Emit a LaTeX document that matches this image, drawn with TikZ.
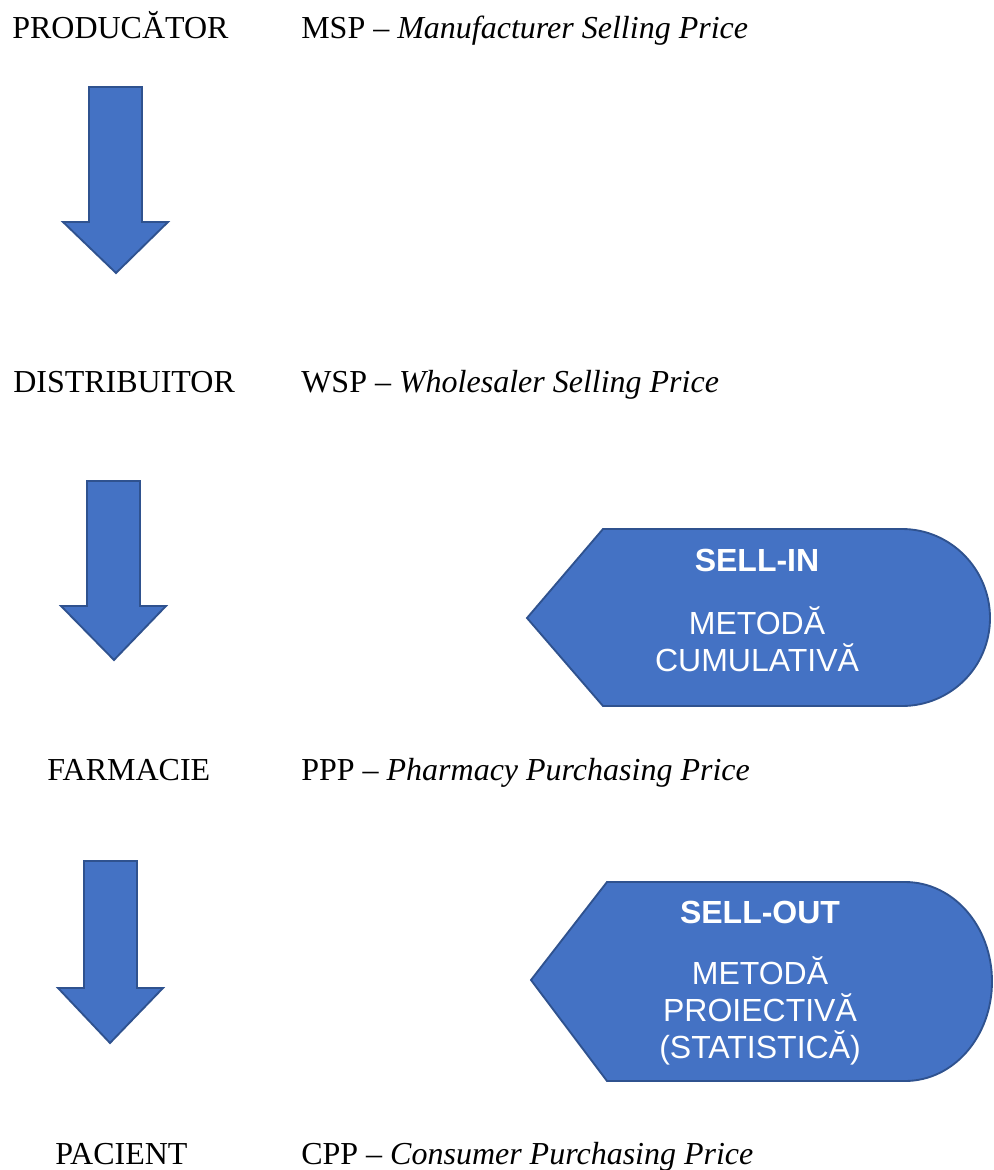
\documentclass[tikz,border=0pt]{standalone}
\usepackage{fontspec}
\setmainfont{Liberation Serif}
\newfontfamily\arialf{Liberation Sans}
\definecolor{boxblue}{HTML}{4472C4}
\definecolor{edgeblue}{HTML}{2F528F}
\begin{document}
\begin{tikzpicture}[x=0.75pt,y=-0.75pt,
  shapefill/.style={fill=boxblue,draw=edgeblue,line width=1.4pt,line join=miter},
  lbl/.style={inner sep=0pt,anchor=base west,font=\fontsize{24}{28}\selectfont},
  wtxt/.style={inner sep=0pt,anchor=base,text=white,font=\arialf\fontsize{24}{28}\selectfont},
  wbold/.style={wtxt,font=\arialf\bfseries\fontsize{24}{28}\selectfont}]
\useasboundingbox (0,0) rectangle (994,1170);
% labels
\node[lbl] (prod) at (12,39) {PRODUCĂTOR};
\node[lbl] (msp) at (301,39) {MSP – \textit{Manufacturer Selling Price}};
\node[lbl] (dist) at (13,392) {DISTRIBUITOR};
\node[lbl] (wsp) at (301,392) {WSP – \textit{Wholesaler Selling Price}};
\node[lbl] (farm) at (47,780) {FARMACIE};
\node[lbl] (ppp) at (301,780) {PPP – \textit{Pharmacy Purchasing Price}};
\node[lbl] (pac) at (55,1164) {PACIENT};
\node[lbl] (cpp) at (301,1164) {CPP – \textit{Consumer Purchasing Price}};
% block arrows
\draw[shapefill] (89,87) -- (142,87) -- (142,222) -- (168,222) -- (116,273) -- (63,222) -- (89,222) -- cycle;
\draw[shapefill] (87,481) -- (140,481) -- (140,606) -- (166,606) -- (114,660) -- (61,606) -- (87,606) -- cycle;
\draw[shapefill] (84,861) -- (137,861) -- (137,988) -- (163,988) -- (110,1043) -- (58,988) -- (84,988) -- cycle;
% display shapes
\draw[shapefill] (527,618) -- (603,529) -- (902,529)
  .. controls (950.6,529) and (990,569.1) .. (990,618)
  .. controls (990,666.9) and (950.6,706) .. (902,706)
  -- (603,706) -- cycle;
\draw[shapefill] (531,980) -- (607,882) -- (905,882)
  .. controls (953.6,882) and (992,926.5) .. (992,981.5)
  .. controls (992,1036.5) and (953.6,1081) .. (905,1081)
  -- (607,1081) -- cycle;
\node[wbold] (sin) at (757,571.5) {SELL-IN};
\node[wtxt] (sin1) at (757,634.5) {METODĂ};
\node[wtxt] (sin2) at (757,671.5) {CUMULATIVĂ};
\node[wbold] (sout) at (760,923.5) {SELL-OUT};
\node[wtxt] (sout1) at (760,984.5) {METODĂ};
\node[wtxt] (sout2) at (760,1021.5) {PROIECTIVĂ};
\node[wtxt] (sout3) at (760,1058.5) {(STATISTICĂ)};
\end{tikzpicture}
\end{document}
